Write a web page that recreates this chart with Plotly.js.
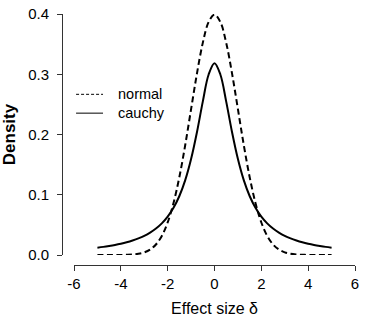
<!DOCTYPE html>
<html>
<head>
<meta charset="utf-8">
<script src="https://cdn.plot.ly/plotly-3.0.1.min.js"></script>
<style>
  html, body { margin: 0; padding: 0; background: #fff; }
  #plot { width: 365px; height: 321px; }
</style>
</head>
<body>
<div id="plot"></div>
<script>
// Effect size grid
const effectSize = [
  -5, -4.75, -4.5, -4.25, -4, -3.75, -3.5, -3.25, -3, -2.75, -2.5, -2.25, -2, -1.75, -1.5, -1.25, -1, -0.75, -0.5, -0.25,
  0, 0.25, 0.5, 0.75, 1, 1.25, 1.5, 1.75, 2, 2.25, 2.5, 2.75, 3, 3.25, 3.5, 3.75, 4, 4.25, 4.5, 4.75, 5
];

// Normal prior density
const normalDensity = [
  0.0000, 0.0000, 0.0000, 0.0001, 0.0001, 0.0004, 0.0009, 0.0020, 0.0044, 0.0091, 0.0175, 0.0317, 0.0540, 0.0863, 0.1295, 0.1826, 0.2420, 0.3011, 0.3521, 0.3867,
  0.3989, 0.3867, 0.3521, 0.3011, 0.2420, 0.1826, 0.1295, 0.0863, 0.0540, 0.0317, 0.0175, 0.0091, 0.0044, 0.0020, 0.0009, 0.0004, 0.0001, 0.0001, 0.0000, 0.0000, 0.0000
];

// Cauchy prior density
const cauchyDensity = [
  0.0122, 0.0135, 0.0150, 0.0167, 0.0187, 0.0211, 0.0240, 0.0275, 0.0318, 0.0372, 0.0439, 0.0525, 0.0637, 0.0784, 0.0979, 0.1242, 0.1592, 0.2037, 0.2546, 0.2996,
  0.3183, 0.2996, 0.2546, 0.2037, 0.1592, 0.1242, 0.0979, 0.0784, 0.0637, 0.0525, 0.0439, 0.0372, 0.0318, 0.0275, 0.0240, 0.0211, 0.0187, 0.0167, 0.0150, 0.0135, 0.0122
];

const xTicks = [-6, -4, -2, 0, 2, 4, 6];
const yTicks = [0, 0.1, 0.2, 0.3, 0.4];
const seriesNames = ["normal", "cauchy"];

const FONT = "Liberation Sans, Arial, sans-serif";
const AXIS_COLOR = "#333";

const traces = [
  {
    x: effectSize, y: normalDensity, name: seriesNames[0], type: "scatter", mode: "lines",
    line: { color: "#000", width: 2, dash: "6px,3.5px", shape: "spline" },
    showlegend: false, hoverinfo: "skip"
  },
  {
    x: effectSize, y: cauchyDensity, name: seriesNames[1], type: "scatter", mode: "lines",
    line: { color: "#000", width: 2, shape: "spline" },
    showlegend: false, hoverinfo: "skip"
  }
];

// Legend key drawn in paper coordinates, top-left of the panel
const legendRows = [
  { name: seriesNames[0], y: 0.68, dash: "3px,2px" },
  { name: seriesNames[1], y: 0.605, dash: "solid" }
];
const shapes = legendRows.map(r => ({
  type: "line", xref: "paper", yref: "paper",
  x0: 0.048, x1: 0.14, y0: r.y, y1: r.y,
  line: { color: "#000", width: 1, dash: r.dash }
}));
const annotations = legendRows.map(r => ({
  xref: "paper", yref: "paper", x: 0.183, y: r.y,
  xanchor: "left", yanchor: "middle", showarrow: false,
  text: r.name, font: { family: FONT, size: 14.5, color: "#000" }
}));

const layout = {
  width: 365, height: 321,
  margin: { l: 62, r: 10, t: 14, b: 56, pad: 0 },
  paper_bgcolor: "#fff", plot_bgcolor: "#fff",
  font: { family: FONT, color: "#000" },
  xaxis: {
    range: [-6, 6], domain: [12 / 293, 1],
    anchor: "free", position: 0,
    tickvals: xTicks, ticktext: xTicks.map(String),
    ticks: "outside", ticklen: 5, tickwidth: 1, tickcolor: AXIS_COLOR,
    showline: true, linecolor: AXIS_COLOR, linewidth: 1,
    showgrid: false, zeroline: false,
    tickfont: { family: FONT, size: 15, color: "#000" },
    title: { text: "Effect size δ", font: { family: FONT, size: 16, color: "#000" }, standoff: 11 }
  },
  yaxis: {
    range: [0, 0.4], domain: [10 / 251, 1],
    anchor: "free", position: 0,
    tickvals: yTicks, tickformat: ".1f",
    ticks: "outside", ticklen: 5, tickwidth: 1, tickcolor: AXIS_COLOR,
    showline: true, linecolor: AXIS_COLOR, linewidth: 1,
    showgrid: false, zeroline: false,
    ticklabelstandoff: 5,
    tickfont: { family: FONT, size: 15, color: "#000" },
    title: { text: "<b>Density</b>", font: { family: FONT, size: 17, color: "#000" }, standoff: 8 }
  },
  shapes: shapes,
  annotations: annotations,
  showlegend: false
};

Plotly.newPlot("plot", traces, layout, { staticPlot: true, displayModeBar: false });
</script>
</body>
</html>
